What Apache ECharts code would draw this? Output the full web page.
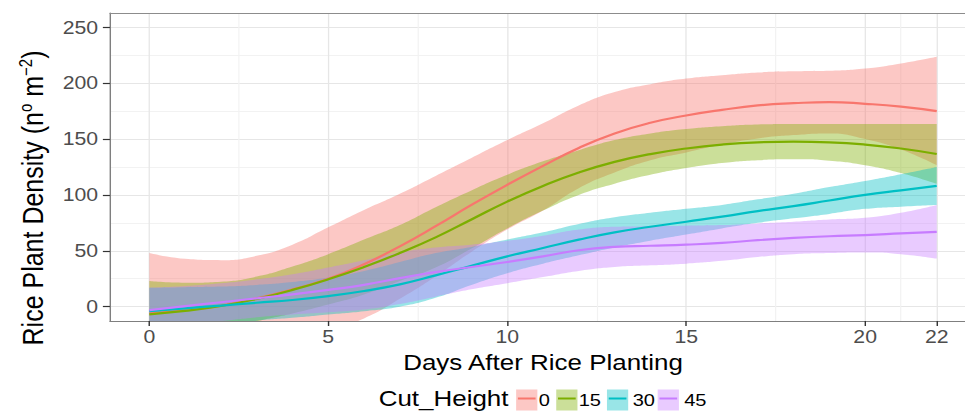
<!DOCTYPE html>
<html>
<head>
<meta charset="utf-8">
<script src="https://cdn.jsdelivr.net/npm/echarts@6/dist/echarts.min.js"></script>
<style>
html,body{margin:0;padding:0;overflow:hidden;background:#fff;width:965px;height:412px;}
#chart{width:818px;height:412px;transform:scaleX(1.1797);transform-origin:0 0;}
</style>
</head>
<body>
<div id="chart"></div>
<script>
// ---------------- data ----------------
const days = [0,1,2,3,4,5,6,7,8,9,10,11,12,13,14,15,16,17,18,19,20,21,22];
const xTicks = [0,5,10,15,20,22];
const xMinorTicks = [2.5,7.5,12.5,17.5,21];
const yTicks = [0,50,100,150,200,250];
const yMinorTicks = [25,75,125,175,225];
const cutHeights = ['0','15','30','45'];

// Cut_Height 0
const fit0 = [-6,-3,1,7.5,15.5,25,38,54,72,91,109,126,142,155,164.5,171,176,180,182,183,181.5,179,175];
const hi0  = [48,42.8,41.6,45.5,55.5,71,86.5,101,117,133,149,164,180,192,199,204,207,209.5,210.5,211,213,217.5,223.5];
const lo0  = [-60,-48.8,-39.6,-30.5,-24.5,-21,-10.5,7,27,49,69,86,106,120,131,138,145,150.5,153.5,155,150,140.5,126.5];
// Cut_Height 15
const fit15 = [-6.8,-3.8,0.6,7,15,24.5,35.5,48,62,78,94,108,120,129.5,136.5,141.5,145,147,147.6,147,145,141.5,136.6];
const hi15  = [23,21.5,22.4,27,36,47,60,73,89,104,118,130,140,149,155,159,161.5,163,163.4,163.5,163.5,163.5,163.4];
const lo15  = [-36.6,-29.1,-21.2,-13,-6,2,11,23,35,52,70,86,100,110,118,124,128.5,131,131.8,130.5,126.5,119.5,109.8];
// Cut_Height 30
const fit30 = [-4,-1.5,1,3.5,6,9.5,14,20,28,36.5,45,52.5,60,66.5,71.5,76,80.5,85.5,90,95,100,104,108];
const hi30  = [17,17.5,18,19.5,22,26,32,40,48,53.5,60,66.5,74,80,84,87.5,91,96,101,107,112.5,118.5,125];
const lo30  = [-25,-20.5,-16,-12.5,-10,-7,-4,0,8,19.5,30,38.5,46,53,59,64.5,70,75,79,83,87.5,89.5,91];
// Cut_Height 45
const fit45 = [-3,0.5,4,7.5,11,15,19.5,25.5,31,35.5,40,45,50.5,53.5,54.5,55.5,57,59.5,61.5,63,64,65.5,67];
const hi45  = [17,18.5,21,24.5,29,35,41.5,48.5,53,55.5,59,63.5,69,71.5,72,72.5,73,74.5,76,78,79.5,84,91];
const lo45  = [-23,-17.5,-13,-9.5,-7,-5,-2.5,2.5,9,15.5,21,26.5,32,35.5,37,38.5,41,44.5,47,48,48.5,47,43];

// ---------------- styling ----------------
const FONT = '"Liberation Sans", Arimo, Arial, Helvetica, sans-serif';
const colors = ['#F8766D','#7CAE00','#00BFC4','#C77CFF'];
const fills  = ['rgba(248,118,109,0.4)','rgba(124,174,0,0.4)','rgba(0,191,196,0.4)','rgba(199,124,255,0.4)'];
const groups = [
  {fit:fit0, lo:lo0, hi:hi0},
  {fit:fit15, lo:lo15, hi:hi15},
  {fit:fit30, lo:lo30, hi:hi30},
  {fit:fit45, lo:lo45, hi:hi45}
];

// same bezier smoothing as ECharts' line series (smooth = 0.5), applied to pixel points
function smoothSegment(pts, startCmd) {
  const smooth = 0.5;
  const mn = Math.min, mx = Math.max;
  let d = '';
  let prevX, prevY, cpx0, cpy0;
  for (let k = 0; k < pts.length; k++) {
    const x = pts[k][0], y = pts[k][1];
    if (k === 0) {
      d += startCmd + x + ' ' + y;
      cpx0 = x; cpy0 = y;
    } else {
      let cpx1, cpy1, nextCpx0, nextCpy0;
      if (k + 1 >= pts.length) {
        cpx1 = x; cpy1 = y;
      } else {
        const nextX = pts[k+1][0], nextY = pts[k+1][1];
        let vx = nextX - prevX, vy = nextY - prevY;
        const dx0 = x - prevX, dx1 = nextX - x, dy0 = y - prevY, dy1 = nextY - y;
        const lenPrev = Math.sqrt(dx0*dx0 + dy0*dy0);
        const lenNext = Math.sqrt(dx1*dx1 + dy1*dy1);
        const ratio = lenNext / (lenNext + lenPrev);
        nextCpx0 = x + vx * smooth * ratio;
        nextCpy0 = y + vy * smooth * ratio;
        nextCpx0 = mn(nextCpx0, mx(nextX, x)); nextCpy0 = mn(nextCpy0, mx(nextY, y));
        nextCpx0 = mx(nextCpx0, mn(nextX, x)); nextCpy0 = mx(nextCpy0, mn(nextY, y));
        vx = nextCpx0 - x; vy = nextCpy0 - y;
        cpx1 = x - vx * lenPrev / lenNext;
        cpy1 = y - vy * lenPrev / lenNext;
        cpx1 = mn(cpx1, mx(prevX, x)); cpy1 = mn(cpy1, mx(prevY, y));
        cpx1 = mx(cpx1, mn(prevX, x)); cpy1 = mx(cpy1, mn(prevY, y));
        vx = x - cpx1; vy = y - cpy1;
        nextCpx0 = x + vx * lenNext / lenPrev;
        nextCpy0 = y + vy * lenNext / lenPrev;
      }
      d += 'C' + cpx0 + ' ' + cpy0 + ' ' + cpx1 + ' ' + cpy1 + ' ' + x + ' ' + y;
      cpx0 = nextCpx0; cpy0 = nextCpy0;
    }
    prevX = x; prevY = y;
  }
  return d;
}

const series = [];
groups.forEach((g, k) => {
  // confidence ribbon
  series.push({
    type:'custom', name: cutHeights[k] + ' band', coordinateSystem:'cartesian2d',
    clip:true, silent:true,
    data: days.map((d,i) => [d, g.lo[i], g.hi[i]]),
    encode:{x:0, y:[1,2]},
    renderItem: function (params, api) {
      if (params.dataIndex !== 0) return;
      const up = days.map((d,i) => api.coord([d, g.hi[i]]));
      const dn = days.map((d,i) => api.coord([d, g.lo[i]])).reverse();
      const pathData = smoothSegment(up, 'M') + smoothSegment(dn, 'L') + 'Z';
      return {type:'path', shape:{pathData: pathData}, style:{fill: fills[k], stroke:null}};
    }
  });
  // fitted line
  series.push({
    type:'line', name: cutHeights[k],
    data: days.map((d,i) => [d, g.fit[i]]),
    smooth:true, symbol:'none', silent:true,
    lineStyle:{width:2.2, color: colors[k]},
    emphasis:{disabled:true}, clip:true
  });
});

// legend drawn as graphic elements (key box + line + label)
const keyX = [437.5, 471.5, 514.5, 557.5];
const labX = [461.4, 500, 545.8, 589.4];
const graphic = [{
  type:'text', silent:true,
  style:{text:'Cut_Height', x:321, y:398.5, fill:'#000', fontSize:22, fontFamily:FONT,
         align:'left', verticalAlign:'middle'}
}];
cutHeights.forEach((c, k) => {
  graphic.push({type:'rect', silent:true, shape:{x:keyX[k], y:389.5, width:18, height:21},
                style:{fill: fills[k]}});
  graphic.push({type:'line', silent:true, shape:{x1:keyX[k]+1.5, y1:398.5, x2:keyX[k]+16.5, y2:398.5},
                style:{stroke: colors[k], lineWidth:2}});
  graphic.push({type:'text', silent:true,
                style:{text:c, x:labX[k], y:400, fill:'#000', fontSize:17, fontFamily:FONT,
                       align:'center', verticalAlign:'middle'}});
});

const option = {
  animation:false,
  backgroundColor:'#fff',
  textStyle:{fontFamily:FONT},
  grid:{left:93.2, right:-9.4, top:13, bottom:91, containLabel:false, outerBoundsMode:'none'},
  xAxis:[{
    type:'value', min:-1.1, max:23.1, position:'bottom',
    axisLine:{show:true, onZero:false, lineStyle:{color:'#7f7f7f', width:1.2}},
    axisTick:{show:true, customValues:xTicks, length:5, lineStyle:{color:'#333', width:1.2}},
    axisLabel:{show:true, customValues:xTicks, color:'#4d4d4d', fontSize:18, margin:7, fontFamily:FONT},
    splitLine:{show:true, lineStyle:{color:'#e6e6e6', width:1.1}},
    name:'Days After Rice Planting', nameLocation:'middle', nameGap:30,
    nameTextStyle:{fontSize:22, color:'#000', fontFamily:FONT}
  },{
    type:'value', min:-1.1, max:23.1, position:'top',
    axisLine:{show:true, onZero:false, lineStyle:{color:'#8c8c8c', width:1}},
    axisTick:{show:false, customValues:xMinorTicks},
    axisLabel:{show:false, customValues:xMinorTicks},
    splitLine:{show:true, lineStyle:{color:'#f2f2f2', width:1}}
  }],
  yAxis:[{
    type:'value', min:-12.8, max:262.7, position:'left',
    axisLine:{show:true, onZero:false, lineStyle:{color:'#7f7f7f', width:1.2}},
    axisTick:{show:true, customValues:yTicks, length:6, lineStyle:{color:'#333', width:1.2}},
    axisLabel:{show:true, customValues:yTicks, color:'#4d4d4d', fontSize:18, margin:10, fontFamily:FONT},
    splitLine:{show:true, lineStyle:{color:'#e6e6e6', width:1.1}},
    name:'Rice Plant Density (n{s|o}{a| m}{s|\u22122}{a|)}', nameLocation:'middle', nameGap:52,
    nameTextStyle:{fontSize:25, color:'#000', fontFamily:FONT, padding:[0,62,0,0],
      rich:{
        a:{fontSize:25, color:'#000', fontFamily:FONT},
        s:{fontSize:15, color:'#000', fontFamily:FONT, verticalAlign:'top', padding:[0,0,12,0]}
      }}
  },{
    type:'value', min:-12.8, max:262.7, position:'right',
    axisLine:{show:false}, axisTick:{show:false, customValues:yMinorTicks},
    axisLabel:{show:false, customValues:yMinorTicks},
    splitLine:{show:true, lineStyle:{color:'#f2f2f2', width:1}}
  }],
  series: series,
  graphic: graphic
};

const chart = echarts.init(document.getElementById('chart'), null, {renderer:'svg', width:818, height:412});
chart.setOption(option);
</script>
</body>
</html>
